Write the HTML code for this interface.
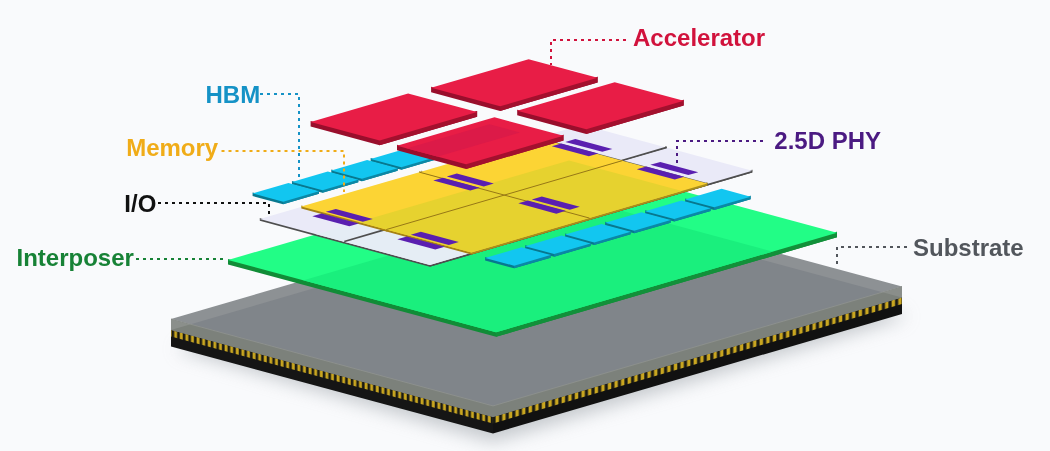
<!DOCTYPE html>
<html><head><meta charset="utf-8"><style>
html,body{margin:0;padding:0;background:#f9fafc;}
svg{display:block;will-change:transform;}
text{font-family:"Liberation Sans",sans-serif;font-weight:bold;font-size:24px;}
</style></head><body>
<svg width="1050" height="451" viewBox="0 0 1050 451">
<rect width="1050" height="451" fill="#f9fafc"/>
<defs><filter id="blur" x="-50%" y="-50%" width="200%" height="200%"><feGaussianBlur stdDeviation="9"/></filter><pattern id="stripeL" patternUnits="userSpaceOnUse" width="5.6" height="20" patternTransform="skewY(15.109575122340466)"><rect width="5.6" height="20" fill="#1a1a14"/><rect x="0.6" width="2.91" height="20" fill="#c9a620"/></pattern><pattern id="stripeR" patternUnits="userSpaceOnUse" width="6.6" height="20" patternTransform="skewY(-16.277804394292925)"><rect width="6.6" height="20" fill="#1a1a14"/><rect x="0.6" width="3.43" height="20" fill="#c9a620"/></pattern></defs>
<g filter="url(#blur)" opacity="0.55">
<polygon points="175.00,349.00 493.00,441.94 908.00,316.51 580.00,219.57" fill="#9aa0a6" />
</g>
<polygon points="171.00,319.00 493.00,405.94 493.00,433.44 171.00,346.50" fill="#151515" />
<polygon points="493.00,405.94 902.00,286.51 902.00,314.01 493.00,433.44" fill="#111111" />
<polygon points="171.00,330.00 493.00,416.94 493.00,423.44 171.00,336.50" fill="url(#stripeL)" />
<polygon points="493.00,416.94 902.00,297.51 902.00,304.01 493.00,423.44" fill="url(#stripeR)" />
<polygon points="171.00,319.00 493.00,405.94 493.00,416.94 171.00,330.00" fill="#8b8f8b" />
<polygon points="493.00,405.94 902.00,286.51 902.00,297.51 493.00,416.94" fill="#8a8e8a" />
<polygon points="171.00,319.00 493.00,405.94 902.00,286.51 580.00,199.57" fill="#8d9194" />
<clipPath id="cSubTop"><polygon points="171.00,319.00 493.00,405.94 902.00,286.51 580.00,199.57"/></clipPath>
<clipPath id="cSubSide"><polygon points="171.00,319.00 493.00,405.94 493.00,416.94 171.00,330.00"/><polygon points="493.00,405.94 902.00,286.51 902.00,297.51 493.00,416.94"/></clipPath>
<g clip-path="url(#cSubTop)">
<polygon points="171.00,330.00 493.00,416.94 902.00,297.51 580.00,210.57" fill="#80858a" />
</g>
<g clip-path="url(#cSubSide)">
<polygon points="171.00,330.00 493.00,416.94 902.00,297.51 580.00,210.57" fill="#7c817b" />
</g>
<line x1="171.00" y1="319.00" x2="493.00" y2="405.94" stroke="#8f938f" stroke-width="0.8"/>
<line x1="493.00" y1="405.94" x2="902.00" y2="286.51" stroke="#8f938f" stroke-width="0.8"/>
<polygon points="228.00,259.00 496.00,331.36 837.00,231.79 837.00,237.29 496.00,336.86 228.00,264.50" fill="#118c37" />
<polygon points="496.00,331.36 837.00,231.79 837.00,237.29 496.00,336.86" fill="#12903a" />
<polygon points="228.00,260.00 496.00,332.36 837.00,232.79 569.00,160.43" fill="#22fd86" />
<clipPath id="cInt"><polygon points="228.00,260.00 496.00,332.36 837.00,232.79 569.00,160.43"/></clipPath>
<g clip-path="url(#cInt)">
<polygon points="171.00,319.00 493.00,405.94 902.00,286.51 580.00,199.57" fill="#1aef7d" />
</g>
<polygon points="449.35,135.00 479.85,143.24 515.70,132.77 515.70,136.37 479.85,146.84 449.35,138.60" fill="#08788f" />
<polygon points="479.85,143.24 515.70,132.77 515.70,136.37 479.85,146.84" fill="#0b88a6" />
<polygon points="449.35,136.00 479.85,144.24 515.70,133.77 485.20,125.53" fill="#12c6f0" />
<polygon points="410.00,146.49 440.50,154.73 476.35,144.26 476.35,147.86 440.50,158.33 410.00,150.09" fill="#08788f" />
<polygon points="440.50,154.73 476.35,144.26 476.35,147.86 440.50,158.33" fill="#0b88a6" />
<polygon points="410.00,147.49 440.50,155.73 476.35,145.26 445.85,137.02" fill="#12c6f0" />
<polygon points="370.65,157.98 401.15,166.22 437.00,155.75 437.00,159.35 401.15,169.82 370.65,161.58" fill="#08788f" />
<polygon points="401.15,166.22 437.00,155.75 437.00,159.35 401.15,169.82" fill="#0b88a6" />
<polygon points="370.65,158.98 401.15,167.22 437.00,156.75 406.50,148.51" fill="#12c6f0" />
<polygon points="331.30,169.47 361.80,177.71 397.65,167.24 397.65,170.84 361.80,181.31 331.30,173.07" fill="#08788f" />
<polygon points="361.80,177.71 397.65,167.24 397.65,170.84 361.80,181.31" fill="#0b88a6" />
<polygon points="331.30,170.47 361.80,178.71 397.65,168.24 367.15,160.00" fill="#12c6f0" />
<polygon points="291.95,180.96 322.45,189.20 358.30,178.73 358.30,182.33 322.45,192.80 291.95,184.56" fill="#08788f" />
<polygon points="322.45,189.20 358.30,178.73 358.30,182.33 322.45,192.80" fill="#0b88a6" />
<polygon points="291.95,181.96 322.45,190.20 358.30,179.73 327.80,171.49" fill="#12c6f0" />
<polygon points="252.60,192.45 283.10,200.69 318.95,190.22 318.95,193.82 283.10,204.29 252.60,196.05" fill="#08788f" />
<polygon points="283.10,200.69 318.95,190.22 318.95,193.82 283.10,204.29" fill="#0b88a6" />
<polygon points="252.60,193.45 283.10,201.69 318.95,191.22 288.45,182.98" fill="#12c6f0" />
<polygon points="421.30,170.86 505.30,193.54 666.30,146.53 666.30,149.33 505.30,196.34 421.30,173.66" fill="#4e4e4e" />
<polygon points="505.30,193.54 666.30,146.53 666.30,149.33 505.30,196.34" fill="#4e4e4e" />
<polygon points="421.30,171.86 505.30,194.54 666.30,147.53 582.30,124.85" fill="#eaeaf8" />
<polygon points="259.80,218.02 343.80,240.70 504.30,193.83 504.30,196.63 343.80,243.50 259.80,220.82" fill="#4e4e4e" />
<polygon points="343.80,240.70 504.30,193.83 504.30,196.63 343.80,243.50" fill="#4e4e4e" />
<polygon points="259.80,219.02 343.80,241.70 504.30,194.83 420.30,172.15" fill="#eaeaf8" />
<polygon points="506.30,193.81 591.30,216.76 752.30,169.75 752.30,172.55 591.30,219.56 506.30,196.61" fill="#4e4e4e" />
<polygon points="591.30,216.76 752.30,169.75 752.30,172.55 591.30,219.56" fill="#4e4e4e" />
<polygon points="506.30,194.81 591.30,217.76 752.30,170.75 667.30,147.80" fill="#eaeaf8" />
<polygon points="344.80,240.97 429.80,263.92 590.30,217.05 590.30,219.85 429.80,266.72 344.80,243.77" fill="#4e4e4e" />
<polygon points="429.80,263.92 590.30,217.05 590.30,219.85 429.80,266.72" fill="#4e4e4e" />
<polygon points="344.80,241.97 429.80,264.92 590.30,218.05 505.30,195.10" fill="#eaeaf8" />
<clipPath id="cW"><polygon points="259.80,219.02 429.80,264.92 752.30,170.75 582.30,124.85"/></clipPath>
<g clip-path="url(#cW)">
<polygon points="228.00,260.00 496.00,332.36 837.00,232.79 569.00,160.43" fill="#e5edf5" />
</g>
<line x1="344.30" y1="241.53" x2="385.80" y2="229.41" stroke="#4e4e4e" stroke-width="1.7"/>
<line x1="621.80" y1="160.50" x2="666.80" y2="147.36" stroke="#4e4e4e" stroke-width="1.7"/>
<line x1="537.80" y1="138.04" x2="707.80" y2="183.94" stroke="#5a5a5a" stroke-width="1.2"/>
<polygon points="419.30,171.14 504.30,194.09 622.30,159.64 622.30,162.64 504.30,197.09 419.30,174.14" fill="#a58214" />
<polygon points="504.30,194.09 622.30,159.64 622.30,162.64 504.30,197.09" fill="#a88e1c" />
<polygon points="419.30,172.14 504.30,195.09 622.30,160.64 537.30,137.69" fill="#fcd434" />
<polygon points="301.30,205.60 386.30,228.55 504.30,194.09 504.30,197.09 386.30,231.55 301.30,208.60" fill="#a58214" />
<polygon points="386.30,228.55 504.30,194.09 504.30,197.09 386.30,231.55" fill="#a88e1c" />
<polygon points="301.30,206.60 386.30,229.55 504.30,195.09 419.30,172.14" fill="#fcd434" />
<polygon points="504.30,194.09 589.30,217.04 707.30,182.59 707.30,185.59 589.30,220.04 504.30,197.09" fill="#a58214" />
<polygon points="589.30,217.04 707.30,182.59 707.30,185.59 589.30,220.04" fill="#a88e1c" />
<polygon points="504.30,195.09 589.30,218.04 707.30,183.59 622.30,160.64" fill="#fcd434" />
<polygon points="386.30,228.55 471.30,251.50 589.30,217.04 589.30,220.04 471.30,254.50 386.30,231.55" fill="#a58214" />
<polygon points="471.30,251.50 589.30,217.04 589.30,220.04 471.30,254.50" fill="#a88e1c" />
<polygon points="386.30,229.55 471.30,252.50 589.30,218.04 504.30,195.09" fill="#fcd434" />
<clipPath id="cY"><polygon points="301.30,206.60 471.30,252.50 707.30,183.59 537.30,137.69"/></clipPath>
<g clip-path="url(#cY)">
<polygon points="228.00,260.00 496.00,332.36 837.00,232.79 569.00,160.43" fill="#e6d22f" />
</g>
<line x1="386.30" y1="229.55" x2="622.30" y2="160.64" stroke="#977816" stroke-width="1"/>
<line x1="419.30" y1="172.14" x2="589.30" y2="218.04" stroke="#977816" stroke-width="1"/>
<polygon points="312.30,216.25 349.30,226.24 358.80,223.47 321.80,213.48" fill="#5a1fb0" />
<polygon points="325.80,211.81 362.80,221.80 372.80,218.88 335.80,208.89" fill="#5a1fb0" />
<polygon points="433.30,180.42 470.30,190.41 479.80,187.64 442.80,177.65" fill="#5a1fb0" />
<polygon points="446.80,176.48 483.80,186.47 493.80,183.55 456.80,173.56" fill="#5a1fb0" />
<polygon points="551.80,146.32 588.80,156.31 598.30,153.53 561.30,143.54" fill="#5a1fb0" />
<polygon points="565.30,141.88 602.30,151.87 612.30,148.95 575.30,138.96" fill="#5a1fb0" />
<polygon points="397.30,239.20 435.30,249.46 444.80,246.69 406.80,236.43" fill="#5a1fb0" />
<polygon points="410.80,234.76 448.80,245.02 458.80,242.10 420.80,231.84" fill="#5a1fb0" />
<polygon points="518.30,203.37 556.30,213.63 565.80,210.86 527.80,200.60" fill="#5a1fb0" />
<polygon points="531.80,199.43 569.80,209.69 579.80,206.77 541.80,196.51" fill="#5a1fb0" />
<polygon points="636.80,169.27 674.80,179.53 684.30,176.75 646.30,166.49" fill="#5a1fb0" />
<polygon points="650.30,164.83 688.30,175.09 698.30,172.17 660.30,161.91" fill="#5a1fb0" />
<polygon points="685.10,198.51 714.10,206.34 750.60,195.68 750.60,199.28 714.10,209.94 685.10,202.11" fill="#08788f" />
<polygon points="714.10,206.34 750.60,195.68 750.60,199.28 714.10,209.94" fill="#0b88a6" />
<polygon points="685.10,199.51 714.10,207.34 750.60,196.68 721.60,188.85" fill="#12c6f0" />
<polygon points="645.10,210.19 674.10,218.02 710.60,207.36 710.60,210.96 674.10,221.62 645.10,213.79" fill="#08788f" />
<polygon points="674.10,218.02 710.60,207.36 710.60,210.96 674.10,221.62" fill="#0b88a6" />
<polygon points="645.10,211.19 674.10,219.02 710.60,208.36 681.60,200.53" fill="#12c6f0" />
<polygon points="605.10,221.87 634.10,229.70 670.60,219.04 670.60,222.64 634.10,233.30 605.10,225.47" fill="#08788f" />
<polygon points="634.10,229.70 670.60,219.04 670.60,222.64 634.10,233.30" fill="#0b88a6" />
<polygon points="605.10,222.87 634.10,230.70 670.60,220.04 641.60,212.21" fill="#12c6f0" />
<polygon points="565.10,233.55 594.10,241.38 630.60,230.72 630.60,234.32 594.10,244.98 565.10,237.15" fill="#08788f" />
<polygon points="594.10,241.38 630.60,230.72 630.60,234.32 594.10,244.98" fill="#0b88a6" />
<polygon points="565.10,234.55 594.10,242.38 630.60,231.72 601.60,223.89" fill="#12c6f0" />
<polygon points="525.10,245.23 554.10,253.06 590.60,242.40 590.60,246.00 554.10,256.66 525.10,248.83" fill="#08788f" />
<polygon points="554.10,253.06 590.60,242.40 590.60,246.00 554.10,256.66" fill="#0b88a6" />
<polygon points="525.10,246.23 554.10,254.06 590.60,243.40 561.60,235.57" fill="#12c6f0" />
<polygon points="485.10,256.91 514.10,264.74 550.60,254.08 550.60,257.68 514.10,268.34 485.10,260.51" fill="#08788f" />
<polygon points="514.10,264.74 550.60,254.08 550.60,257.68 514.10,268.34" fill="#0b88a6" />
<polygon points="485.10,257.91 514.10,265.74 550.60,255.08 521.60,247.25" fill="#12c6f0" />
<polygon points="431.10,86.70 500.10,105.33 597.60,76.86 597.60,82.46 500.10,110.93 431.10,92.30" fill="#990e2c" />
<polygon points="500.10,105.33 597.60,76.86 597.60,82.46 500.10,110.93" fill="#a3102e" />
<polygon points="431.10,87.70 500.10,106.33 597.60,77.86 528.60,59.23" fill="#e81d46" />
<polygon points="310.60,120.90 379.60,139.53 477.10,111.06 477.10,116.66 379.60,145.13 310.60,126.50" fill="#990e2c" />
<polygon points="379.60,139.53 477.10,111.06 477.10,116.66 379.60,145.13" fill="#a3102e" />
<polygon points="310.60,121.90 379.60,140.53 477.10,112.06 408.10,93.43" fill="#e81d46" />
<polygon points="517.20,109.70 586.20,128.33 683.70,99.86 683.70,105.46 586.20,133.93 517.20,115.30" fill="#990e2c" />
<polygon points="586.20,128.33 683.70,99.86 683.70,105.46 586.20,133.93" fill="#a3102e" />
<polygon points="517.20,110.70 586.20,129.33 683.70,100.86 614.70,82.23" fill="#e81d46" />
<polygon points="397.00,144.70 466.00,163.33 563.50,134.86 563.50,140.46 466.00,168.93 397.00,150.30" fill="#990e2c" />
<polygon points="466.00,163.33 563.50,134.86 563.50,140.46 466.00,168.93" fill="#a3102e" />
<polygon points="397.00,145.70 466.00,164.33 563.50,135.86 494.50,117.23" fill="#e81d46" />
<clipPath id="cF"><polygon points="397.00,145.70 466.00,164.33 563.50,135.86 494.50,117.23"/></clipPath>
<g clip-path="url(#cF)">
<polygon points="252.60,193.45 283.10,201.69 520.10,132.48 489.60,124.25" fill="#dc1a48" />
</g>
<path d="M626.00,40.00 L551.00,40.00 L551.00,65.00" fill="none" stroke="#d1123c" stroke-width="2" stroke-dasharray="3 4"/>
<path d="M260.00,94.00 L299.00,94.00 L299.00,177.00" fill="none" stroke="#1592c6" stroke-width="2" stroke-dasharray="3 4"/>
<path d="M221.50,151.00 L344.00,151.00 L344.00,192.00" fill="none" stroke="#f0ac18" stroke-width="2" stroke-dasharray="3 4"/>
<path d="M158.00,203.00 L269.00,203.00 L269.00,214.00" fill="none" stroke="#111111" stroke-width="2" stroke-dasharray="3 4"/>
<path d="M136.00,259.00 L223.20,259.00" fill="none" stroke="#178236" stroke-width="2" stroke-dasharray="3 4"/>
<path d="M763.00,141.00 L677.00,141.00 L677.00,163.00" fill="none" stroke="#4b1a82" stroke-width="2" stroke-dasharray="3 4"/>
<path d="M907.00,247.00 L837.00,247.00 L837.00,264.00" fill="none" stroke="#52565c" stroke-width="2" stroke-dasharray="3 4"/>
<text x="633" y="45.6" fill="#d1123c">Accelerator</text>
<text x="205.5" y="102.5" fill="#1592c6">HBM</text>
<text x="126.2" y="155.7" fill="#f0ac18">Memory</text>
<text x="124.3" y="211.7" fill="#111111">I/O</text>
<text x="16.5" y="265.9" fill="#178236">Interposer</text>
<text x="774.3" y="148.6" fill="#4b1a82">2.5D PHY</text>
<text x="913.0" y="255.8" fill="#52565c">Substrate</text>
</svg></body></html>
